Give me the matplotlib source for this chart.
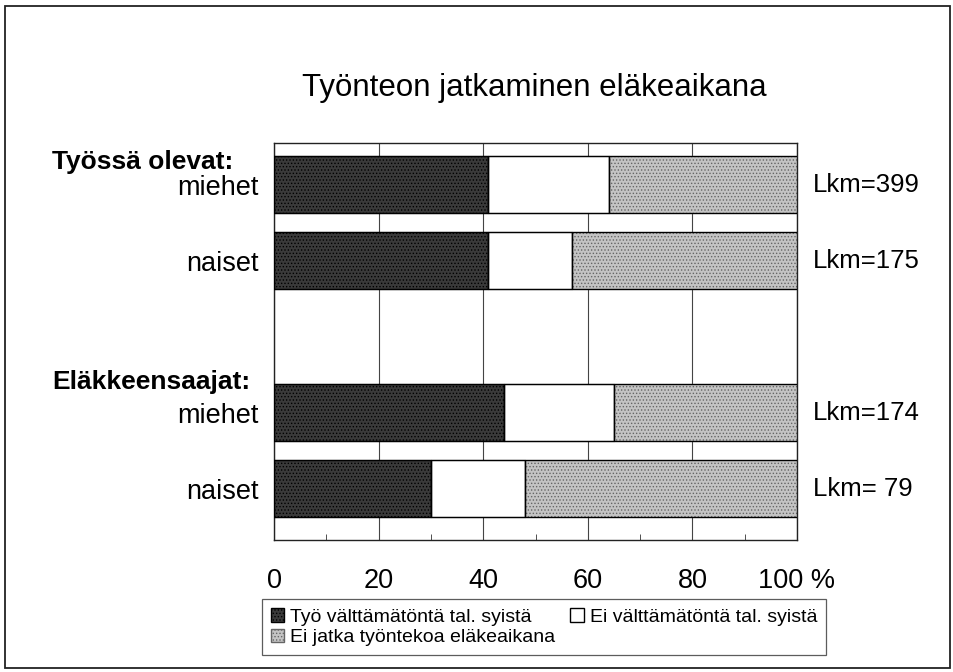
import numpy as np
import matplotlib.pyplot as plt
from matplotlib.patches import Patch, Rectangle

plt.rcParams['font.family'] = ['Liberation Sans', 'DejaVu Sans']
plt.rcParams['hatch.linewidth'] = 0.6

# data (percent)
groups = ["Työssä olevat:", "Eläkkeensaajat:"]
rows = ["miehet", "naiset", "miehet", "naiset"]
counts = ["Lkm=399", "Lkm=175", "Lkm=174", "Lkm= 79"]
valttamaton = [41, 41, 44, 30]     # Työ välttämätöntä tal. syistä
ei_valttamaton = [23, 16, 21, 18]  # Ei välttämätöntä tal. syistä
ei_jatka = [36, 43, 35, 52]        # Ei jatka työntekoa eläkeaikana
series_names = ["Työ välttämätöntä tal. syistä", "Ei välttämätöntä tal. syistä",
                "Ei jatka työntekoa eläkeaikana"]

ypos = [0, 1, 3, 4]  # empty row between the groups

fig = plt.figure(figsize=(9.54, 6.72), dpi=100)
ax = fig.add_axes([274/954, 1-540/672, (797-274)/954, (540-143)/672])

# frame round the whole picture
fig.patches.append(Rectangle((5/954, 4/672), 945/954, 662/672, transform=fig.transFigure,
                             fill=False, edgecolor='#222222', lw=1.3))

h = 0.75
styles = [dict(facecolor='#3a3a3a', hatch='.....', edgecolor='black'),
          dict(facecolor='white', edgecolor='black'),
          dict(facecolor='#c4c4c4', hatch='.....', edgecolor='#666666')]
left = np.zeros(4)
for vals, st in zip([valttamaton, ei_valttamaton, ei_jatka], styles):
    ax.barh(ypos, vals, left=left, height=h, linewidth=0.9, zorder=3, **st)
    left += np.array(vals)
# black outlines on top (hatch colour comes from edgecolor)
left = np.zeros(4)
for vals in [valttamaton, ei_valttamaton, ei_jatka]:
    ax.barh(ypos, vals, left=left, height=h, fill=False, edgecolor='black', linewidth=0.9, zorder=4)
    left += np.array(vals)

ax.set_xlim(0, 100)
ax.set_ylim(4 + 51.5/76, -42/76)
ax.set_xticks([0, 20, 40, 60, 80, 100])
ax.set_xticklabels(["0", "20", "40", "60", "80", "100 %"], fontsize=19.5)
ax.set_xticks([10, 30, 50, 70, 90], minor=True)
ax.tick_params(axis='x', which='major', length=0, pad=20)
ax.tick_params(axis='x', which='minor', direction='in', length=4, color='#333333')
ax.grid(axis='x', color='#444444', lw=0.8, zorder=0)
ax.set_yticks(ypos)
ax.set_yticklabels(rows, fontsize=19.5)
ax.tick_params(axis='y', length=0, pad=11)
for s in ax.spines.values():
    s.set_color('#222222')
    s.set_linewidth(1.0)

for y, c in zip(ypos, counts):
    ax.text(103, y, c, fontsize=18.5, va='center', ha='left')

fig.text(534/954, 1-88/672, "Työnteon jatkaminen eläkeaikana", ha='center', va='center', fontsize=22.5)
fig.text(52/954, 1-162/672, groups[0], ha='left', va='center', fontsize=19, fontweight='bold')
fig.text(52/954, 1-382/672, groups[1], ha='left', va='center', fontsize=19, fontweight='bold')

# order so that the rows read: A  B / C
handles = [Patch(**styles[0]), Patch(**styles[2]), Patch(**styles[1])]
labels = [series_names[0], series_names[2], series_names[1]]
leg = fig.legend(handles, labels, loc='lower left',
                 bbox_to_anchor=(262/954, 1-655/672, 564/954, 61/672), mode='expand',
                 ncol=2, fontsize=14, frameon=True, fancybox=False, handlelength=0.7,
                 handleheight=0.7, handletextpad=0.3, columnspacing=1.0, borderpad=0.45,
                 borderaxespad=0, labelspacing=0.15, edgecolor='#333333')
leg.get_frame().set_linewidth(0.9)

fig.savefig("out.png", dpi=100)
